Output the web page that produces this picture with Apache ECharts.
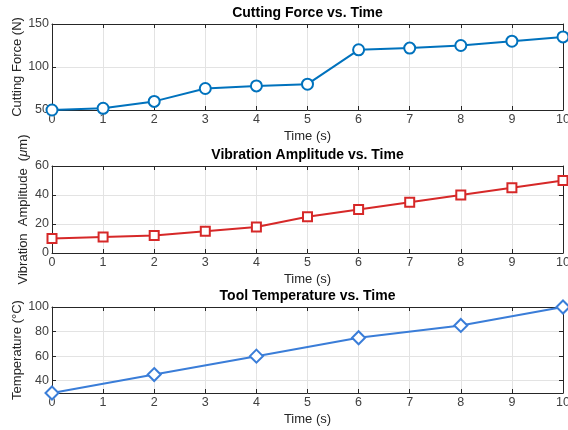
<!DOCTYPE html>
<html>
<head>
<meta charset="utf-8">
<script src="https://cdn.jsdelivr.net/npm/echarts@6/dist/echarts.min.js"></script>
<style>
  html, body { margin: 0; padding: 0; background: #fff; }
  #chart { width: 568px; height: 430px; }
</style>
</head>
<body>
<div id="chart"></div>
<script>
// data
var timeSteps = [0, 1, 2, 3, 4, 5, 6, 7, 8, 9, 10]
var forceValues = [50, 52, 60, 75, 78, 80, 120, 122, 125, 130, 135]
var vibrationValues = [10, 11, 12, 15, 18, 25, 30, 35, 40, 45, 50]
var tempTimes = [0, 2, 4, 6, 8, 10]
var tempValues = [30, 45, 60, 75, 85, 100]

var forceTicks = [50, 100, 150]
var vibrationTicks = [0, 20, 40, 60]
var tempTicks = [40, 60, 80, 100]

var FONT = 'Liberation Sans, Arial, sans-serif'
var AXIS_COLOR = '#262626'

var panels = [
  {
    title: 'Cutting Force vs. Time', yName: 'Cutting Force (N)', yGap: 28,
    top: 24, height: 86, min: 50, max: 150, ticks: forceTicks,
    x: timeSteps, y: forceValues, color: '#0072BD', symbol: 'circle', size: 11
  },
  {
    title: 'Vibration Amplitude vs. Time', yName: 'Vibration  Amplitude  ({i|μ}m)', yGap: 22,
    top: 166, height: 87, min: 0, max: 60, ticks: vibrationTicks,
    x: timeSteps, y: vibrationValues, color: '#D62828', symbol: 'rect', size: 9
  },
  {
    title: 'Tool Temperature vs. Time', yName: 'Temperature (°C)', yGap: 28,
    top: 307, height: 86, min: 30, max: 100, ticks: tempTicks,
    x: tempTimes, y: tempValues, color: '#3A7DD8', symbol: 'diamond', size: 13
  }
]

var grid = [], xAxis = [], yAxis = [], series = []

panels.forEach(function (p, i) {
  grid.push({ left: 52, width: 511, top: p.top, height: p.height, outerBoundsMode: 'none', containLabel: false })

  // bottom axis with time labels
  xAxis.push({
    type: 'value', gridIndex: i, min: 0, max: 10, interval: 1,
    name: 'Time (s)', nameLocation: 'middle', nameGap: 20, nameMoveOverlap: false,
    nameTextStyle: { fontFamily: FONT, fontSize: 13, color: AXIS_COLOR },
    axisLine: { onZero: false, lineStyle: { color: AXIS_COLOR } },
    axisTick: { inside: true, length: 4, lineStyle: { color: AXIS_COLOR } },
    axisLabel: { fontFamily: FONT, fontSize: 12.5, color: '#404040', margin: 3 },
    splitLine: { show: true, lineStyle: { color: '#e3e3e3' } }
  })
  // top axis carries the panel title
  xAxis.push({
    type: 'value', gridIndex: i, position: 'top', min: 0, max: 10, interval: 1,
    name: p.title, nameLocation: 'middle', nameGap: 4,
    nameTextStyle: { fontFamily: FONT, fontSize: 14, fontWeight: 'bold', color: '#000' },
    axisLine: { onZero: false, lineStyle: { color: AXIS_COLOR } },
    axisTick: { inside: true, length: 4, lineStyle: { color: AXIS_COLOR } },
    axisLabel: { show: false },
    splitLine: { show: false }
  })
  yAxis.push({
    type: 'value', gridIndex: i, min: p.min, max: p.max, interval: 10,
    name: p.yName, nameLocation: 'middle', nameGap: p.yGap, nameMoveOverlap: false,
    nameTextStyle: {
      fontFamily: FONT, fontSize: 13, color: AXIS_COLOR,
      rich: { i: { fontFamily: FONT, fontSize: 13, fontStyle: 'italic', color: AXIS_COLOR } }
    },
    axisLine: { onZero: false, lineStyle: { color: AXIS_COLOR } },
    axisTick: { inside: true, length: 4, customValues: p.ticks, lineStyle: { color: AXIS_COLOR } },
    axisLabel: { fontFamily: FONT, fontSize: 12.5, color: '#404040', margin: 3, customValues: p.ticks },
    splitLine: { show: true, lineStyle: { color: '#e3e3e3' } }
  })
  yAxis.push({
    type: 'value', gridIndex: i, position: 'right', min: p.min, max: p.max, interval: 10,
    axisLine: { onZero: false, lineStyle: { color: AXIS_COLOR } },
    axisTick: { inside: true, length: 4, customValues: p.ticks, lineStyle: { color: AXIS_COLOR } },
    axisLabel: { show: false, customValues: p.ticks },
    splitLine: { show: false }
  })

  series.push({
    type: 'line', xAxisIndex: i * 2, yAxisIndex: i * 2,
    data: p.x.map(function (t, k) { return [t, p.y[k]] }),
    symbol: p.symbol, symbolSize: p.size, showAllSymbol: true,
    lineStyle: { color: p.color, width: 2 },
    itemStyle: { color: '#fff', borderColor: p.color, borderWidth: 2 },
    clip: false, animation: false
  })
})

var chart = echarts.init(document.getElementById('chart'))
chart.setOption({
  animation: false,
  grid: grid,
  xAxis: xAxis,
  yAxis: yAxis,
  series: series
})
</script>
</body>
</html>
